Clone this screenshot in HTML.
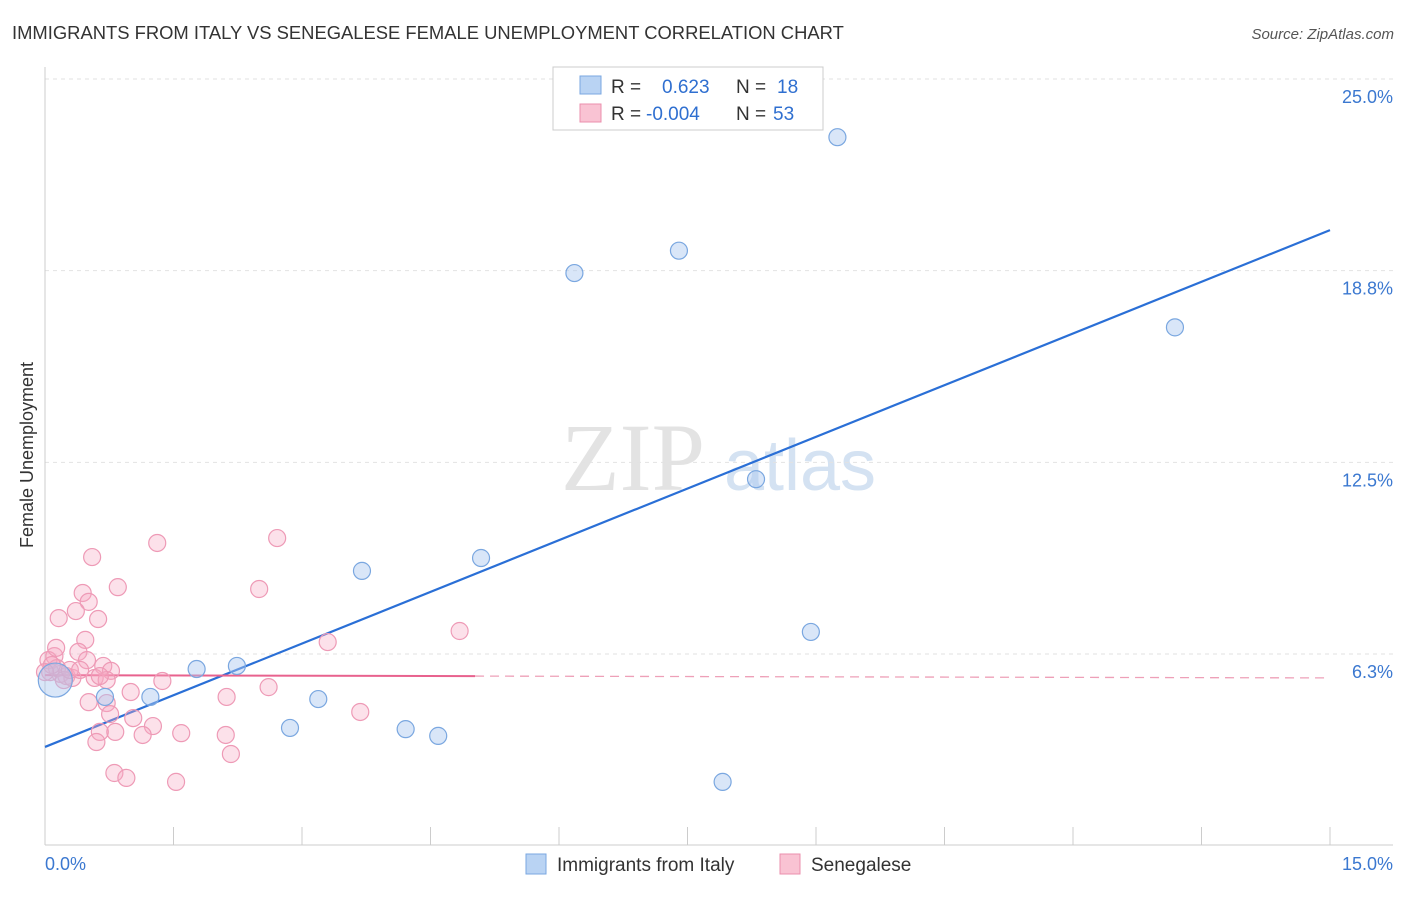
<!DOCTYPE html>
<html><head><meta charset="utf-8"><style>
body{margin:0;background:#fff;font-family:"Liberation Sans",sans-serif}
</style></head><body>
<svg id="chart" width="1406" height="892" xmlns="http://www.w3.org/2000/svg" font-family="Liberation Sans, sans-serif">
<text x="12" y="39" font-size="18.4" fill="#333">IMMIGRANTS FROM ITALY VS SENEGALESE FEMALE UNEMPLOYMENT CORRELATION CHART</text>
<text x="1394" y="39" font-size="15" fill="#555" text-anchor="end" font-style="italic">Source: ZipAtlas.com</text>
<g>
<text x="633" y="490" font-size="96" font-family="Liberation Serif, serif" fill="#e3e3e3" text-anchor="middle">ZIP</text>
<text x="800" y="490" font-size="72" fill="#d4e2f2" text-anchor="middle">atlas</text>
</g>
<g id="grid"></g>
<g id="axes"></g>
<g id="lines"></g>
<g id="points"></g>
<text transform="translate(33,455) rotate(-90)" font-size="18" fill="#333" text-anchor="middle">Female Unemployment</text>
<g>
<rect x="553" y="67" width="270" height="63" fill="#fff" stroke="#ccc"/>
<rect x="580" y="76" width="21" height="18" fill="#b9d3f3" stroke="#7aa7e0"/>
<rect x="580" y="104" width="21" height="18" fill="#f9c3d3" stroke="#eb8fac"/>
<text x="611" y="93" font-size="19" fill="#333">R = </text><text x="662" y="93" font-size="19" fill="#2f6fd0">0.623</text>
<text x="736" y="93" font-size="19" fill="#333">N = </text><text x="777" y="93" font-size="19" fill="#2f6fd0">18</text>
<text x="611" y="120" font-size="19" fill="#333">R = </text><text x="646" y="120" font-size="19" fill="#2f6fd0">-0.004</text>
<text x="736" y="120" font-size="19" fill="#333">N = </text><text x="773" y="120" font-size="19" fill="#2f6fd0">53</text>
</g>
<g>
<rect x="526" y="854" width="20" height="20" fill="#b9d3f3" stroke="#7aa7e0"/>
<text x="557" y="871" font-size="19" fill="#333">Immigrants from Italy</text>
<rect x="780" y="854" width="20" height="20" fill="#f9c3d3" stroke="#eb8fac"/>
<text x="811" y="871" font-size="19" fill="#333">Senegalese</text>
</g>
</svg>
<script>
const yTicks=[6.25,12.5,18.75,25];
const yTickLabels=["6.3%","12.5%","18.8%","25.0%"];
const xTickVals=[0,1.5,3,4.5,6,7.5,9,10.5,12,13.5,15];
const italyX=[9.25,7.40,6.18,13.19,8.30,5.09,3.70,8.94,2.24,1.77,1.23,0.70,3.19,2.86,4.21,4.59,7.91,0.12];
const italyY=[23.1,19.4,18.67,16.9,11.95,9.38,8.96,6.97,5.86,5.76,4.85,4.85,4.78,3.84,3.80,3.58,2.08,5.40];
const senX=[0.55,1.31,2.71,0.44,0.85,2.50,0.51,0.36,0.16,0.62,0.47,3.30,4.84,0.39,0.11,0.04,0.49,0.68,0.77,0.18,0.25,0.32,0.58,0.72,1.37,0.06,0.14,2.61,1.00,2.12,0.51,0.72,0.76,3.68,1.03,1.26,0.82,0.64,1.14,1.59,2.11,0.60,2.17,0.81,0.95,1.53,0.08,0.22,0.29,0.0,0.41,0.13,0.64];
const senY=[9.41,9.87,10.03,8.24,8.43,8.37,7.95,7.65,7.42,7.39,6.71,6.64,7.0,6.32,6.18,6.05,6.05,5.86,5.70,5.60,5.53,5.47,5.47,5.40,5.37,5.66,5.79,5.17,5.01,4.85,4.68,4.65,4.29,4.36,4.16,3.90,3.71,3.71,3.61,3.67,3.61,3.38,2.99,2.37,2.21,2.08,5.89,5.40,5.73,5.66,5.73,6.45,5.53];
const italyTrend=[3.22,20.07];
const senTrend=[5.56,5.47];
const senSolidEnd=5.02;
const X=v=>45+v/15*1285, Y=v=>654-(v-6.25)*30.67;
const NS="http://www.w3.org/2000/svg";
function mk(p,t,a){const e=document.createElementNS(NS,t);for(const k in a)e.setAttribute(k,a[k]);document.getElementById(p).appendChild(e);return e;}
yTicks.forEach((v,i)=>{
 const g=mk('grid','line',{x1:45,x2:1393,y1:Y(v),y2:Y(v),stroke:'#e2e2e2','stroke-dasharray':'4,4'});
 
 
 const t=mk('axes','text',{x:1393,y:Y(v)+24,'font-size':18,fill:'#3b78d0','text-anchor':'end'});
 t.textContent=yTickLabels[i];
 
 
});
mk('axes','line',{x1:45,x2:45,y1:67,y2:845,stroke:'#ccc'});
mk('axes','line',{x1:45,x2:1393,y1:845,y2:845,stroke:'#ccc'});
xTickVals.forEach(v=>{
 const t=mk('axes','line',{x1:X(v),x2:X(v),y1:827,y2:845,stroke:'#ccc'});
 
 
});
let l0=mk('axes','text',{x:45,y:870,'font-size':18,fill:'#3b78d0'});l0.textContent='0.0%';


let l1=mk('axes','text',{x:1393,y:870,'font-size':18,fill:'#3b78d0','text-anchor':'end'});l1.textContent='15.0%';


senX.forEach((x,i)=>{
 const c=mk('points','circle',{cx:X(x),cy:Y(senY[i]),r:8.5,fill:'rgba(245,170,195,0.35)',stroke:'#ee9ab6','stroke-width':1.2});
 
 
});
italyX.forEach((x,i)=>{
 const c=mk('points','circle',{cx:X(x),cy:Y(italyY[i]),r:i==17?17:8.5,fill:'rgba(170,200,240,0.45)',stroke:'#7aa7e0','stroke-width':1.2});
 
 
});
const bl=mk('lines','line',{x1:X(0),y1:Y(italyTrend[0]),x2:X(15),y2:Y(italyTrend[1]),stroke:'#2a6fd6','stroke-width':2.2});


const sm=senTrend[0]+(senTrend[1]-senTrend[0])*senSolidEnd/15;
const p1=mk('lines','line',{x1:X(0),y1:Y(senTrend[0]),x2:X(senSolidEnd),y2:Y(sm),stroke:'#e8628e','stroke-width':2});


const p2=mk('lines','line',{x1:X(senSolidEnd),y1:Y(sm),x2:X(15),y2:Y(senTrend[1]),stroke:'#eea0b8','stroke-width':1.3,'stroke-dasharray':'9,6'});


</script>
</body></html>
